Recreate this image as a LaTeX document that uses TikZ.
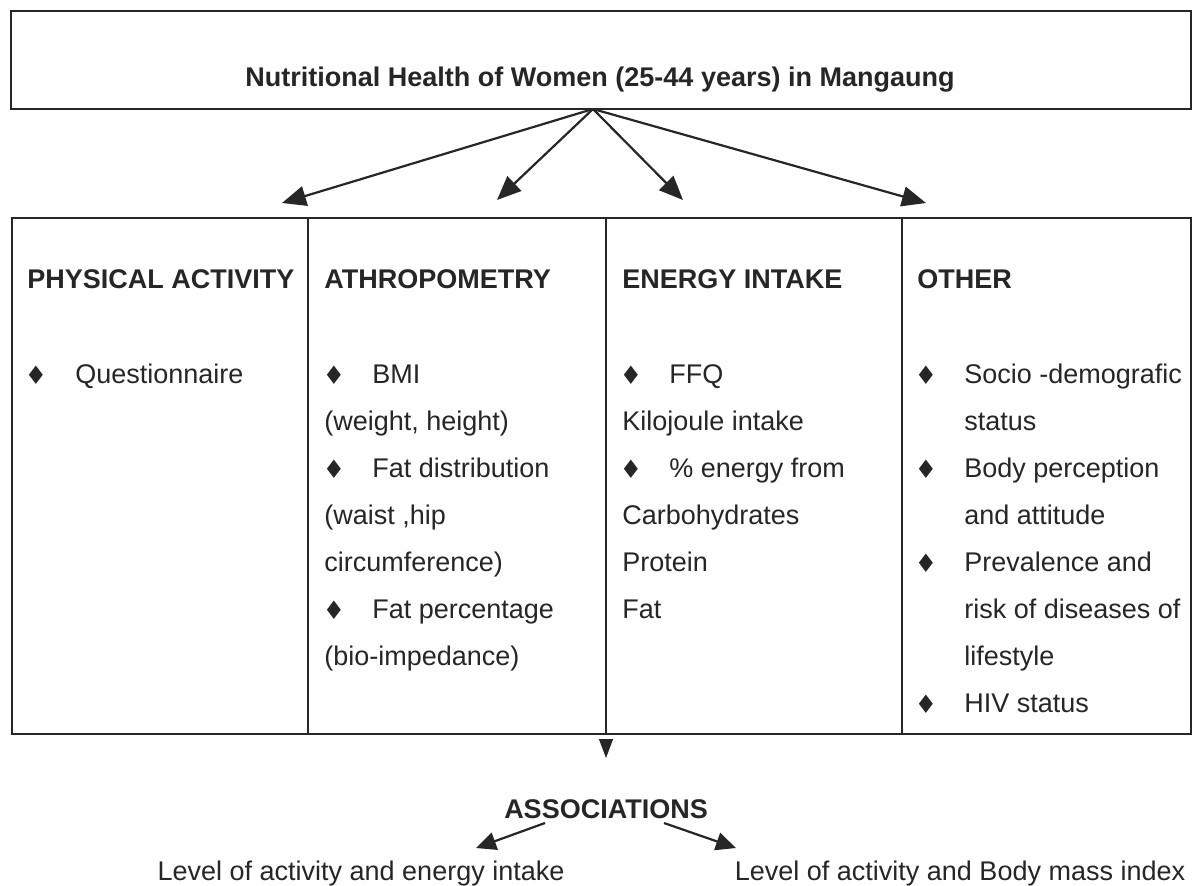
\documentclass[tikz,border=0pt]{standalone}
\usepackage{fontspec}
\setmainfont{Liberation Sans}
\newfontfamily\symfont{DejaVu Sans}
\usetikzlibrary{arrows.meta}
\definecolor{inkc}{HTML}{262626}
\begin{document}
\begin{tikzpicture}[x=0.5pt,y=-0.5pt,
  frame/.style={draw=inkc, line width=0.9pt, inner sep=0pt},
  divider/.style={draw=inkc, line width=0.6pt},
  txt/.style={anchor=base west, inner sep=0pt, font=\fontsize{13.5}{16}\selectfont, text=inkc},
  hd/.style={txt, font=\fontsize{13.5}{16}\selectfont\bfseries},
  bul/.style={anchor=center, inner sep=0pt, font=\symfont\fontsize{11.5}{13}\selectfont, text=inkc},
  arr/.style={draw=inkc, line width=1.1pt, -{Triangle[length=12pt,width=10pt]}},
  arrs/.style={draw=inkc, line width=1.1pt, -{Triangle[length=10pt,width=9pt]}}]
\useasboundingbox (0,0) rectangle (1192,885);
\fill[white] (0,0) rectangle (1192,885);
% top box
\node[frame, minimum width=590pt, minimum height=49pt, anchor=north west] (top) at (10,10) {};
\node[txt, font=\fontsize{13.5}{16}\selectfont\bfseries, anchor=base] (title) at (600,86) {Nutritional Health of Women (25-44 years) in Mangaung};
% bottom box
\node[frame, minimum width=589.5pt, minimum height=258pt, anchor=north west] (main) at (11,217) {};
\coordinate (d1t) at (308,217); \coordinate (d1b) at (308,733);
\coordinate (d2t) at (606,217); \coordinate (d2b) at (606,733);
\coordinate (d3t) at (902,217); \coordinate (d3b) at (902,733);
\draw[divider] (d1t) -- (d1b);
\draw[divider] (d2t) -- (d2b);
\draw[divider] (d3t) -- (d3b);
% arrows from the title box
\coordinate (src) at (593,109);
\coordinate (t1) at (282,203);
\coordinate (t2) at (497,200);
\coordinate (t3) at (683,200);
\coordinate (t4) at (926,203);
\draw[arr] (src) -- (t1);
\draw[arr] (src) -- (t2);
\draw[arr] (src) -- (t3);
\draw[arr] (src) -- (t4);
% headings
\node[hd] (h1) at (27,288) {PHYSICAL ACTIVITY};
\node[hd] (h2) at (324,288) {ATHROPOMETRY};
\node[hd] (h3) at (622,288) {ENERGY INTAKE};
\node[hd] (h4) at (917,288) {OTHER};
% column 1
\node[bul] (b11) at (36,375) {\scalebox{0.8}[1.05]{◆}};
\node[txt] (c11) at (75,383) {Questionnaire};
% column 2
\node[bul] (b21) at (334,375) {\scalebox{0.8}[1.05]{◆}};
\node[txt] (c21) at (372,383) {BMI};
\node[txt] (c22) at (324,430) {(weight, height)};
\node[bul] (b23) at (334,469) {\scalebox{0.8}[1.05]{◆}};
\node[txt] (c23) at (372,477) {Fat distribution};
\node[txt] (c24) at (324,524) {(waist ,hip};
\node[txt] (c25) at (324,571) {circumference)};
\node[bul] (b26) at (334,610) {\scalebox{0.8}[1.05]{◆}};
\node[txt] (c26) at (372,618) {Fat percentage};
\node[txt] (c27) at (324,665) {(bio-impedance)};
% column 3
\node[bul] (b31) at (631,375) {\scalebox{0.8}[1.05]{◆}};
\node[txt] (c31) at (669,383) {FFQ};
\node[txt] (c32) at (622,430) {Kilojoule intake};
\node[bul] (b33) at (631,469) {\scalebox{0.8}[1.05]{◆}};
\node[txt] (c33) at (669,477) {\% energy from};
\node[txt] (c34) at (622,524) {Carbohydrates};
\node[txt] (c35) at (622,571) {Protein};
\node[txt] (c36) at (622,618) {Fat};
% column 4
\node[bul] (b41) at (926,375) {\scalebox{0.8}[1.05]{◆}};
\node[txt] (c41) at (964,383) {Socio -demografic};
\node[txt] (c42) at (964,430) {status};
\node[bul] (b43) at (926,469) {\scalebox{0.8}[1.05]{◆}};
\node[txt] (c43) at (964,477) {Body perception};
\node[txt] (c44) at (964,524) {and attitude};
\node[bul] (b45) at (926,563) {\scalebox{0.8}[1.05]{◆}};
\node[txt] (c45) at (964,571) {Prevalence and};
\node[txt] (c46) at (964,618) {risk of diseases of};
\node[txt] (c47) at (964,665) {lifestyle};
\node[bul] (b48) at (926,704) {\scalebox{0.8}[1.05]{◆}};
\node[txt] (c48) at (964,712) {HIV status};
% down arrow
\coordinate (dn) at (606,758);
\draw[draw=inkc, line width=0.5pt, -{Triangle[length=9.5pt,width=7pt]}] (606,740) -- (dn);
% associations
\node[hd, anchor=base] (assoc) at (606,818) {ASSOCIATIONS};
\node[txt, anchor=base] (l1) at (361,880) {Level of activity and energy intake};
\node[txt, anchor=base] (l2) at (960,880) {Level of activity and Body mass index};
\coordinate (a1s) at (545,823); \coordinate (a1e) at (476,848);
\coordinate (a2s) at (664,823); \coordinate (a2e) at (736,848);
\draw[arrs] (a1s) -- (a1e);
\draw[arrs] (a2s) -- (a2e);
\end{tikzpicture}
\end{document}
